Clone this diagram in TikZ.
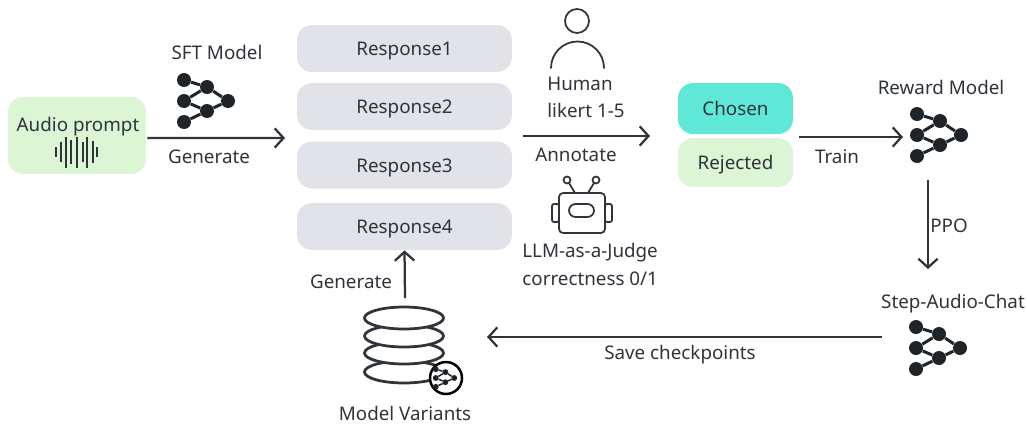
\documentclass[tikz,border=0pt]{standalone}
\usepackage{fontspec}
\setmainfont{Noto Sans}
\usetikzlibrary{arrows.meta}
\definecolor{inkdark}{HTML}{2E343A}
\definecolor{netdark}{HTML}{1F2429}
\definecolor{softgreen}{HTML}{DBF5D5}
\definecolor{softgrey}{HTML}{E2E3E8}
\definecolor{softteal}{HTML}{5FE8D8}
\tikzset{
  lbl/.style={text=inkdark,font=\fontsize{10.7}{13}\selectfont,inner sep=0pt,text height=10.4pt,text depth=2.4pt},
  box/.style={rounded corners=.3cm,inner sep=0pt,minimum width=#1},
  respbox/.style={box=4.3cm,fill=softgrey,minimum height=.94cm,lbl},
  flow/.style={draw=inkdark,line width=.045cm,-{Straight Barb[length=5pt,width=11pt]}},
  dot/.style={circle,fill=netdark,inner sep=0pt,minimum size=.28cm},
  icon/.style={draw=inkdark,line width=.035cm},
  pics/neticon/.style={code={
    \node[dot] (-a) at (-22,-21) {};
    \node[dot] (-b) at (1,-14) {};
    \node[dot] (-c) at (-22,0) {};
    \node[dot] (-d) at (22,0) {};
    \node[dot] (-e) at (1,10) {};
    \node[dot] (-f) at (-22,21) {};
    \foreach \s/\t in {a/b,b/c,b/d,c/e,e/d,e/f}{\draw[netdark,line width=#1] (-\s) -- (-\t);}
  }}
}
\begin{document}
\begin{tikzpicture}[x=.02cm,y=-.02cm]
\useasboundingbox (0,0) rectangle (1027,423);
\node[box=2.76cm,fill=softgreen,minimum height=1.54cm] (audio) at (77,135.5) {};
\node[lbl] (audiotxt) at (78,124) {Audio prompt};
\foreach \x/\h in {56/10,61/20,66/31,71/24,77/31,83/20,87/31,93/22,97/10}{
\draw[inkdark,line width=.05cm] (\x,152-\h/2) -- (\x,152+\h/2);
}
\node[lbl] (sfttxt) at (217,52) {SFT Model};
\pic (sft) at (206,101) {neticon=.06cm};
\node[lbl] (gen1) at (209,156) {Generate};
\coordinate (respin) at (285,138);
\draw[flow] (audio.east) ++(1,2.5) -- (respin);
\node[respbox] (resp1) at (404.5,48.5) {Response1};
\node[respbox] (resp2) at (404.5,106.5) {Response2};
\node[respbox] (resp3) at (404.5,165) {Response3};
\node[respbox] (resp4) at (404.5,226.5) {Response4};
\draw[icon] (577,21) circle (12);
\draw[icon,line cap=round] (551,68) arc[start angle=180,end angle=360,radius=26.5];
\node[lbl,anchor=west] (human) at (547,83) {Human};
\node[lbl,anchor=west] (likert) at (547,110) {likert 1-5};
\node[lbl] (annot) at (576,154) {Annotate};
\coordinate (annin) at (523,136);
\draw[icon,rounded corners=.04cm] (552,204) rectangle (559,222);
\draw[icon,rounded corners=.04cm] (605,204) rectangle (612,222);
\draw[icon,rounded corners=.08cm] (559,193) rectangle (605,233);
\draw[icon,rounded corners=.13cm] (569,204) rectangle (594,217);
\draw[icon] (575,193) -- (569,183) (588,193) -- (594,183);
\draw[icon] (567,180) circle (3.5) (596,180) circle (3.5);
\node[lbl,anchor=west] (llm) at (522,250) {LLM-as-a-Judge};
\node[lbl,anchor=west] (correct) at (522,278) {correctness 0/1};
\node[box=2.3cm,fill=softteal,minimum height=1.02cm,lbl] (chosen) at (735.5,108.5) {Chosen};
\node[box=2.3cm,fill=softgreen,minimum height=.98cm,lbl] (rejected) at (735.5,162.5) {Rejected};
\coordinate (annout) at (650,136);
\draw[flow] (annin) -- (annout);
\coordinate (trainout) at (799,137);
\coordinate (trainin) at (903,137);
\draw[flow] (trainout) -- (trainin);
\node[lbl] (train) at (837,156) {Train};
\node[lbl] (rewardtxt) at (941,87) {Reward Model};
\pic (reward) at (939,135) {neticon=.06cm};
\coordinate (ppoout) at (928,180);
\coordinate (ppoin) at (928,269);
\draw[flow] (ppoout) -- (ppoin);
\node[lbl] (ppo) at (949,225) {PPO};
\node[lbl] (steptxt) at (953,301) {Step-Audio-Chat};
\pic (step) at (938,348) {neticon=.06cm};
\coordinate (saveout) at (882,337);
\coordinate (savein) at (487,337);
\draw[flow] (saveout) -- (savein);
\node[lbl] (save) at (680,352) {Save checkpoints};
\foreach \y in {372,353,336,318}{
\draw[icon,line width=.055cm,fill=white] (404,\y) ellipse (39.5 and 11);
}
\draw[line width=.05cm,draw=black,fill=white] (446,378) circle (16);
\pic[scale=.42,transform shape] (mini) at (445,378) {neticon=.03cm};
\node[lbl,text height=7.6pt,text depth=0pt] (variants) at (405,414) {Model Variants};
\coordinate (genout) at (405,298);
\draw[flow] (genout) -- (resp4.south);
\node[lbl] (gen2) at (351,281) {Generate};
\end{tikzpicture}
\end{document}
